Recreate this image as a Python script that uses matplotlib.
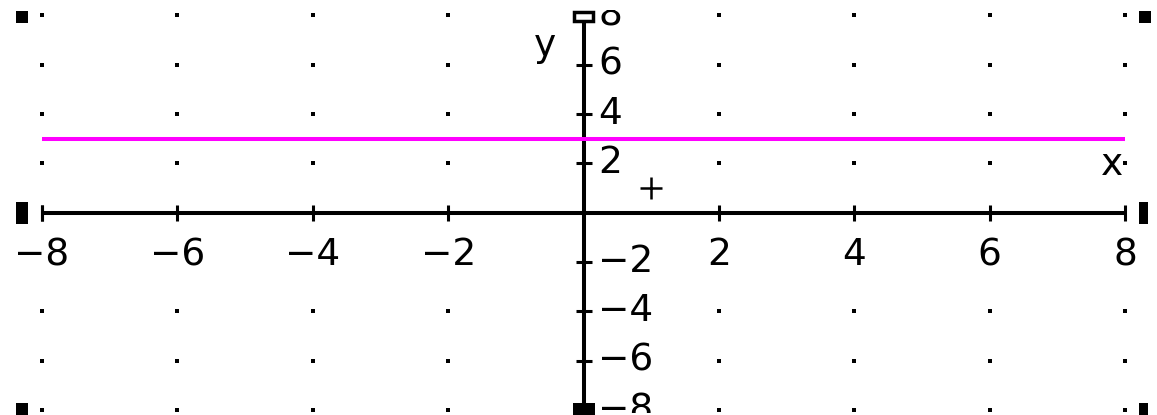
import matplotlib
matplotlib.use("Agg")
import matplotlib.pyplot as plt
from matplotlib.patches import Rectangle
from matplotlib.transforms import Bbox

# chart values
x_ticks = [-8, -6, -4, -2, 2, 4, 6, 8]
y_ticks = [-6, -4, -2, 2, 4, 6]
y_edge_labels = [8, -8]          # partly cut off at the top / bottom
grid_x = [-8, -6, -4, -2, 0, 2, 4, 6, 8]
grid_y = [-8, -6, -4, -2, 2, 4, 6, 8]
line_y = 3                        # magenta horizontal line y = 3
line_x = [-8, 8]
point_x, point_y = 1, 1           # cursor cross

W, H = 1157, 415
fig = plt.figure(figsize=(W / 100, H / 100), dpi=100)
ax = fig.add_axes([0, 0, 1, 1])
ax.set_xlim(-8.62, 8.47)
ax.set_ylim(-8.2, 8.62)
ax.axis("off")

fs = 27
black = "black"
bg = dict(facecolor="white", edgecolor="none", pad=1)

# grid dots
for gx in grid_x:
    for gy in grid_y:
        ax.plot(gx, gy, marker="s", ms=2.3, color=black, mew=0, zorder=1)

# axes
ax.plot([-8, 8], [0, 0], color=black, lw=2.9, solid_capstyle="butt", zorder=3)
ax.plot([0, 0], [-8.2, 8.1], color=black, lw=2.9, solid_capstyle="butt", zorder=3)
ax.plot([-8], [0], marker="|", ms=11, mew=2.2, color=black, zorder=3)

# ticks
ax.plot(x_ticks, [0] * len(x_ticks), ls="none", marker="|", ms=11, mew=2.2,
        color=black, zorder=3)
ax.plot([0] * len(y_ticks), y_ticks, ls="none", marker="_", ms=11, mew=2.2,
        color=black, zorder=3)

# tick labels (x labels hide the grid dots behind them)
for t in x_ticks:
    ax.text(t, -1.72, f"{t}".replace("-", "\u2212"), fontsize=fs,
            ha="center", va="center", color=black, bbox=bg, zorder=2)
for t in y_ticks:
    ax.text(0.22, t, f"{t}".replace("-", "\u2212"), fontsize=fs,
            ha="left", va="center", color=black, zorder=2)

# edge labels are cut by the drawing area
clip = Bbox.from_extents(0, 2, W, H - 10)
for t in y_edge_labels:
    txt = ax.text(0.22, t, f"{t}".replace("-", "\u2212"), fontsize=fs,
                  ha="left", va="center", color=black, zorder=2)
    txt.set_clip_box(clip)
    txt.set_clip_on(True)

# axis names
ax.text(7.81, 1.93, "x", fontsize=fs, ha="center", va="center", color=black,
        zorder=2)
ax.text(-0.57, 6.75, "y", fontsize=fs, ha="center", va="center", color=black,
        zorder=2)

# the function y = 3
ax.plot(line_x, [line_y, line_y], color="#ff00ff", lw=2.9,
        solid_capstyle="butt", zorder=4)

# cursor cross
ax.plot(point_x, point_y, marker="+", ms=16, mew=1.8, color=black, zorder=5)

# selection handles (figure pixels)
def handle(x0, y0, w, h, fill=True):
    fig.add_artist(Rectangle((x0 / W, 1 - (y0 + h) / H), w / W, h / H,
                             transform=fig.transFigure,
                             facecolor=black if fill else "white",
                             edgecolor=black, lw=0 if fill else 2.5))

handle(16, 11, 12, 12)
handle(1139, 11, 12, 12)
handle(16, 202, 12, 22)
handle(1139, 202, 9, 22)
handle(16, 403, 12, 12)
handle(1139, 403, 9, 12)
handle(573, 403, 10, 12)
handle(586, 403, 9, 12)
handle(574, 12, 19, 9, fill=False)

fig.savefig("out.png", dpi=100)
